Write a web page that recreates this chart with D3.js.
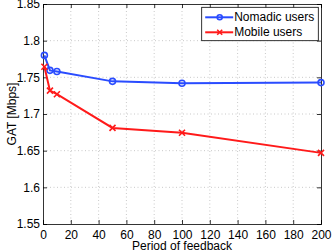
<!DOCTYPE html>
<html>
<head>
<meta charset="utf-8">
<script src="https://cdn.jsdelivr.net/npm/d3@7"></script>
<style>
  body { margin: 0; background: #fff; }
  svg text { font-family: "Liberation Sans", Arial, sans-serif; fill: #000; }
</style>
</head>
<body>
<div id="chart"></div>
<script>
const periods = [1, 5, 10, 50, 100, 200];
const nomadic = [1.780, 1.7595, 1.758, 1.7445, 1.742, 1.7428];
const mobile = [1.7645, 1.7318, 1.727, 1.681, 1.6745, 1.647];
const xTicks = [0, 20, 40, 60, 80, 100, 120, 140, 160, 180, 200];
const yTicks = [1.55, 1.6, 1.65, 1.7, 1.75, 1.8, 1.85];

const margin = { top: 4, right: 11, bottom: 28, left: 43 };
const W = 332, H = 252;
const width = W - margin.left - margin.right;
const height = H - margin.top - margin.bottom;

const svg = d3.select('#chart').append('svg')
    .attr('width', W).attr('height', H);
const g = svg.append('g').attr('transform', `translate(${margin.left},${margin.top})`);

const x = d3.scaleLinear().domain([0, 200]).range([0, width]);
const y = d3.scaleLinear().domain([1.55, 1.85]).range([height, 0]);

// grid
g.selectAll('line.gx').data(xTicks.slice(1, -1)).join('line')
    .attr('x1', d => x(d)).attr('x2', d => x(d)).attr('y1', 0).attr('y2', height)
    .attr('stroke', '#bbb').attr('stroke-width', 0.8).attr('stroke-dasharray', '1,2.5');
g.selectAll('line.gy').data(yTicks.slice(1, -1)).join('line')
    .attr('y1', d => y(d)).attr('y2', d => y(d)).attr('x1', 0).attr('x2', width)
    .attr('stroke', '#bbb').attr('stroke-width', 0.8).attr('stroke-dasharray', '1,2.5');

// axes
const xAxis = g.append('g').attr('transform', `translate(0,${height})`)
    .call(d3.axisBottom(x).tickValues(xTicks).tickSize(-4).tickPadding(6).tickFormat(d3.format('d')));
const xTop = g.append('g')
    .call(d3.axisTop(x).tickValues(xTicks).tickSize(-4).tickFormat(''));
const yAxis = g.append('g')
    .call(d3.axisLeft(y).tickValues(yTicks).tickSize(-4).tickPadding(3).tickFormat(d => String(+d.toFixed(2))));
const yRight = g.append('g').attr('transform', `translate(${width},0)`)
    .call(d3.axisRight(y).tickValues(yTicks).tickSize(-4).tickFormat(''));

[xAxis, xTop, yAxis, yRight].forEach(a => {
    a.selectAll('.domain').attr('stroke', '#000').attr('stroke-width', 0.8);
    a.selectAll('.tick line').attr('stroke', '#000').attr('stroke-width', 0.8);
    a.selectAll('.tick text').attr('font-size', 12).attr('fill', '#000');
});

// labels
svg.append('text').attr('x', margin.left + width / 2).attr('y', 249.5)
    .attr('text-anchor', 'middle').attr('font-size', 12).text('Period of feedback');
svg.append('text').attr('transform', `translate(15.5,${margin.top + height / 2}) rotate(-90)`)
    .attr('text-anchor', 'middle').attr('font-size', 12).text('GAT [Mbps]');

const blue = '#2a4cff', red = '#ff1a1a';
const line = d3.line().x((d, i) => x(periods[i])).y(d => y(d));

g.append('path').datum(nomadic).attr('d', line)
    .attr('fill', 'none').attr('stroke', blue).attr('stroke-width', 2);
g.selectAll('circle.nom').data(nomadic).join('circle')
    .attr('cx', (d, i) => x(periods[i])).attr('cy', d => y(d)).attr('r', 3)
    .attr('fill', 'none').attr('stroke', blue).attr('stroke-width', 1.6);

g.append('path').datum(mobile).attr('d', line)
    .attr('fill', 'none').attr('stroke', red).attr('stroke-width', 2);
const s = 3;
g.selectAll('path.mob').data(mobile).join('path')
    .attr('d', (d, i) => {
        const cx = x(periods[i]), cy = y(d);
        return `M${cx - s},${cy - s}L${cx + s},${cy + s}M${cx - s},${cy + s}L${cx + s},${cy - s}`;
    })
    .attr('stroke', red).attr('stroke-width', 1.6);

// legend
const lg = g.append('g').attr('transform', 'translate(158.7,3.3)');
lg.append('rect').attr('width', 116.6).attr('height', 33.4)
    .attr('fill', '#fff').attr('stroke', '#000').attr('stroke-width', 0.8);
const legendItems = [
    { name: 'Nomadic users', color: blue, mark: 'o' },
    { name: 'Mobile users', color: red, mark: 'x' }
];
legendItems.forEach((it, i) => {
    const cy = 10 + i * 15;
    lg.append('line').attr('x1', 3.5).attr('x2', 31.5).attr('y1', cy).attr('y2', cy)
        .attr('stroke', it.color).attr('stroke-width', 2);
    if (it.mark === 'o') {
        lg.append('circle').attr('cx', 18).attr('cy', cy).attr('r', 2.5)
            .attr('fill', 'none').attr('stroke', it.color).attr('stroke-width', 1.6);
    } else {
        lg.append('path').attr('d', `M${15.5},${cy - 2.5}L${20.5},${cy + 2.5}M${15.5},${cy + 2.5}L${20.5},${cy - 2.5}`)
            .attr('stroke', it.color).attr('stroke-width', 1.6);
    }
    lg.append('text').attr('x', 32.5).attr('y', cy).attr('dy', '0.35em')
        .attr('font-size', 12).text(it.name);
});
</script>
</body>
</html>
